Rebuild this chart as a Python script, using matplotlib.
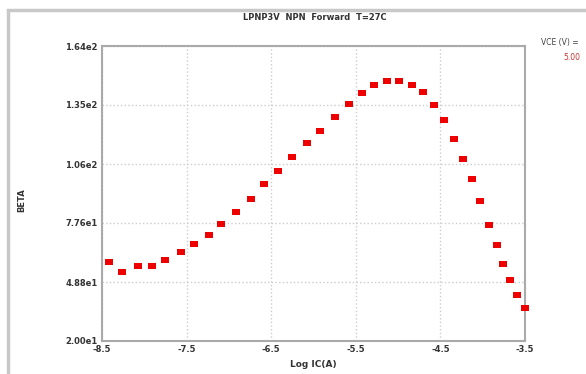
import matplotlib
matplotlib.use('Agg')
import matplotlib.pyplot as plt
from matplotlib.patches import Rectangle

# measured beta vs log(Ic), VCE = 5.00 V
log_ic = [-8.42, -8.26, -8.08, -7.91, -7.75, -7.57, -7.41, -7.24, -7.09, -6.92,
          -6.74, -6.58, -6.42, -6.25, -6.08, -5.92, -5.75, -5.58, -5.43, -5.28,
          -5.13, -4.99, -4.84, -4.71, -4.58, -4.46, -4.34, -4.23, -4.13, -4.03,
          -3.93, -3.83, -3.76, -3.68, -3.59, -3.50]
beta = [58.7, 53.5, 56.7, 56.7, 59.5, 63.6, 67.3, 71.7, 77.1, 82.8,
        89.1, 96.6, 103.0, 109.6, 116.6, 122.6, 129.5, 135.7, 141.0, 144.8,
        146.7, 146.9, 144.8, 141.4, 135.3, 127.7, 118.7, 109.0, 98.9, 88.3,
        76.8, 66.8, 57.4, 49.8, 42.4, 36.1]

x_ticks = [-8.5, -7.5, -6.5, -5.5, -4.5, -3.5]
y_ticks = [20.0, 48.8, 77.6, 106.4, 135.2, 164.0]
y_labels = ['2.00e1', '4.88e1', '7.76e1', '1.06e2', '1.35e2', '1.64e2']

fig = plt.figure(figsize=(5.86, 3.74), dpi=100)
fig.patches.append(Rectangle((8 / 586, -0.05), 1.2, 1.0 - 10 / 374 + 0.05,
                             transform=fig.transFigure, fill=False,
                             edgecolor='#c8c8c8', linewidth=2.5))

ax = fig.add_axes([102 / 586, 1 - 341 / 374, 423 / 586, 295 / 374])
# slightly flattened square markers like the original tool
rect = [(-1, -0.72), (1, -0.72), (1, 0.72), (-1, 0.72), (-1, -0.72)]
ax.plot(log_ic, beta, linestyle='none', marker=rect, markersize=5.8,
        color='#ee0000', markeredgewidth=0, clip_on=False, zorder=3)

ax.set_xlim(-8.5, -3.5)
ax.set_ylim(20.0, 164.0)
ax.set_xticks(x_ticks)
ax.set_xticklabels([str(t) for t in x_ticks], fontsize=6, fontweight='bold', color='#333333')
ax.set_yticks(y_ticks)
ax.set_yticklabels(y_labels, fontsize=6, fontweight='bold', color='#333333')
ax.tick_params(length=0, pad=3)
ax.grid(True, linestyle=':', color='#cccccc', linewidth=1)
for s in ax.spines.values():
    s.set_color('#aaaaaa')
    s.set_linewidth(1.5)

ax.set_xlabel('Log IC(A)', fontsize=6.5, fontweight='bold', color='#333333', labelpad=4)
fig.text(22 / 586, 1 - 200 / 374, 'BETA', rotation=90, fontsize=6, fontweight='bold',
         color='#333333', ha='center', va='center')
fig.text(315 / 586, 1 - 18 / 374, 'LPNP3V  NPN  Forward  T=27C', fontsize=6,
         fontweight='bold', color='#333333', ha='center', va='center')
fig.text(560 / 586, 1 - 42 / 374, 'VCE (V) =', fontsize=5.5, color='#444444',
         ha='center', va='center')
fig.text(572 / 586, 1 - 57 / 374, '5.00', fontsize=5.5, color='#cc3333',
         ha='center', va='center')

fig.savefig('out.png', dpi=100)
